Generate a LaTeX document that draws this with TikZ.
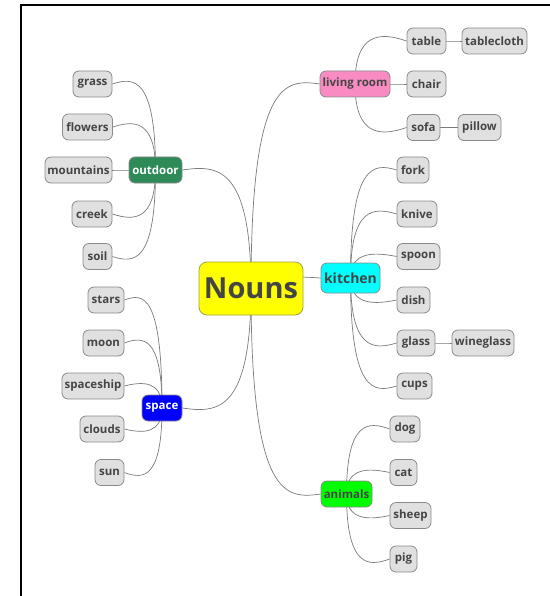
\documentclass[tikz,border=0pt]{standalone}
\usepackage{fontspec}
\setmainfont{Open Sans}
\usetikzlibrary{calc,backgrounds}
\definecolor{leafgray}{HTML}{E0E0E0}
\definecolor{bordergray}{HTML}{8A8A8A}
\definecolor{textgray}{HTML}{454545}
\definecolor{edgegray}{HTML}{7A7A7A}
\definecolor{pinkc}{HTML}{F88CC2}
\definecolor{cyanc}{HTML}{00FFFF}
\definecolor{limec}{HTML}{00FF00}
\definecolor{seagreenc}{HTML}{2E8B57}
\definecolor{bluec}{HTML}{0000FF}
\definecolor{yellowc}{HTML}{FFFF00}
\definecolor{yellowborder}{HTML}{A0A050}
\tikzset{
  base/.style={rounded corners=6pt, draw=bordergray, line width=0.8pt,
    font=\bfseries\fontsize{11.5}{13}\selectfont, text=textgray,
    minimum height=26pt, inner sep=0pt, align=center},
  leaf/.style={base, fill=leafgray},
  rootbox/.style={base, fill=yellowc, draw=yellowborder, rounded corners=8pt,
    font=\bfseries\fontsize{29}{32}\selectfont, minimum width=104pt, minimum height=53pt},
  edge/.style={draw=edgegray, line width=0.7pt},
}
% right-hand child: from parent centre to child west
\newcommand\edgeR[3]{\draw[edge] let \p1=(#1.center), \p2=(#2.west),
  \n1={min(#3,0.22*abs(\y2-\y1))*sign(\y2-\y1)} in
  (\p1) .. controls (\x1,{\y2+\n1}) and ({(\x1+\x2)/2},{\y2+\n1}) .. (\p2);}
% left-hand child: from parent centre to child east
\newcommand\edgeL[3]{\draw[edge] let \p1=(#1.center), \p2=(#2.east),
  \n1={min(#3,0.22*abs(\y2-\y1))*sign(\y2-\y1)} in
  (\p1) .. controls (\x1,{\y2+\n1}) and ({(\x1+\x2)/2},{\y2+\n1}) .. (\p2);}
\begin{document}
\begin{tikzpicture}[x=1pt,y=-1pt]
\useasboundingbox (0,0) rectangle (549,596);
\draw[line width=2pt, black] (21,597) -- (21,5) -- (550,5);

% root
\node[rootbox] (nouns) at (251,288.5) {Nouns};

% living room
\node[leaf, fill=pinkc, minimum width=70pt] (living) at (355,84) {living room};
\node[leaf, minimum width=39pt] (table) at (426.5,41) {table};
\node[leaf, minimum width=65pt] (tablecloth) at (494.5,41) {tablecloth};
\node[leaf, minimum width=39pt] (chair) at (426.5,84) {chair};
\node[leaf, minimum width=33pt] (sofa) at (423.5,127.5) {sofa};
\node[leaf, minimum width=43pt] (pillow) at (479.5,127.5) {pillow};

% kitchen
\node[base, fill=cyanc, minimum width=59pt, minimum height=30pt,
  font=\bfseries\fontsize{14}{16}\selectfont] (kitchen) at (350.5,278) {kitchen};
\node[leaf, minimum width=32pt] (fork) at (413,170) {fork};
\node[leaf, minimum width=40pt] (knive) at (417,214) {knive};
\node[leaf, minimum width=43pt] (spoon) at (418.5,256.5) {spoon};
\node[leaf, minimum width=33pt] (dish) at (413.5,300) {dish};
\node[leaf, minimum width=38pt] (glass) at (416,343) {glass};
\node[leaf, minimum width=62pt] (wineglass) at (483,343) {wineglass};
\node[leaf, minimum width=35pt] (cups) at (414.5,386) {cups};

% animals
\node[base, fill=limec, minimum width=51pt] (animals) at (346.5,494) {animals};
\node[leaf, minimum width=30pt] (dog) at (405,429) {dog};
\node[leaf, minimum width=27pt] (cat) at (403.5,472.5) {cat};
\node[leaf, minimum width=41pt] (sheep) at (410.5,515.5) {sheep};
\node[leaf, minimum width=27pt] (pig) at (403.5,559) {pig};

% outdoor
\node[base, fill=seagreenc, text=white, minimum width=53pt] (outdoor) at (155.5,170) {outdoor};
\node[leaf, minimum width=39pt] (grass) at (92.5,84) {grass};
\node[leaf, minimum width=50pt] (flowers) at (87.5,127) {flowers};
\node[leaf, minimum width=67pt] (mountains) at (78.5,170) {mountains};
\node[leaf, minimum width=40pt] (creek) at (92,214) {creek};
\node[leaf, minimum width=29pt] (soil) at (97.5,256.5) {soil};

% space
\node[base, fill=bluec, text=white, minimum width=40pt] (space) at (162,408) {space};
\node[leaf, minimum width=36pt] (stars) at (106,300) {stars};
\node[leaf, minimum width=41pt] (moon) at (103.5,343) {moon};
\node[leaf, minimum width=62pt] (spaceship) at (93,386) {spaceship};
\node[leaf, minimum width=44pt] (clouds) at (102,429) {clouds};
\node[leaf, minimum width=29pt] (sun) at (109.5,472.5) {sun};

\begin{pgfonlayer}{background}
  \edgeR{nouns}{living}{5}
  \edgeR{nouns}{kitchen}{5}
  \edgeR{nouns}{animals}{5}
  \edgeL{nouns}{outdoor}{5}
  \edgeL{nouns}{space}{5}

  \edgeR{living}{table}{9}
  \edgeR{living}{chair}{9}
  \edgeR{living}{sofa}{9}
  \edgeR{table}{tablecloth}{9}
  \edgeR{sofa}{pillow}{9}

  \edgeR{kitchen}{fork}{7}
  \edgeR{kitchen}{knive}{7}
  \edgeR{kitchen}{spoon}{7}
  \edgeR{kitchen}{dish}{7}
  \edgeR{kitchen}{glass}{7}
  \edgeR{kitchen}{cups}{7}
  \edgeR{glass}{wineglass}{7}

  \edgeR{animals}{dog}{8}
  \edgeR{animals}{cat}{8}
  \edgeR{animals}{sheep}{8}
  \edgeR{animals}{pig}{8}

  \edgeL{outdoor}{grass}{7}
  \edgeL{outdoor}{flowers}{7}
  \edgeL{outdoor}{mountains}{7}
  \edgeL{outdoor}{creek}{7}
  \edgeL{outdoor}{soil}{7}

  \edgeL{space}{stars}{7}
  \edgeL{space}{moon}{7}
  \edgeL{space}{spaceship}{7}
  \edgeL{space}{clouds}{7}
  \edgeL{space}{sun}{7}
\end{pgfonlayer}
\end{tikzpicture}
\end{document}
